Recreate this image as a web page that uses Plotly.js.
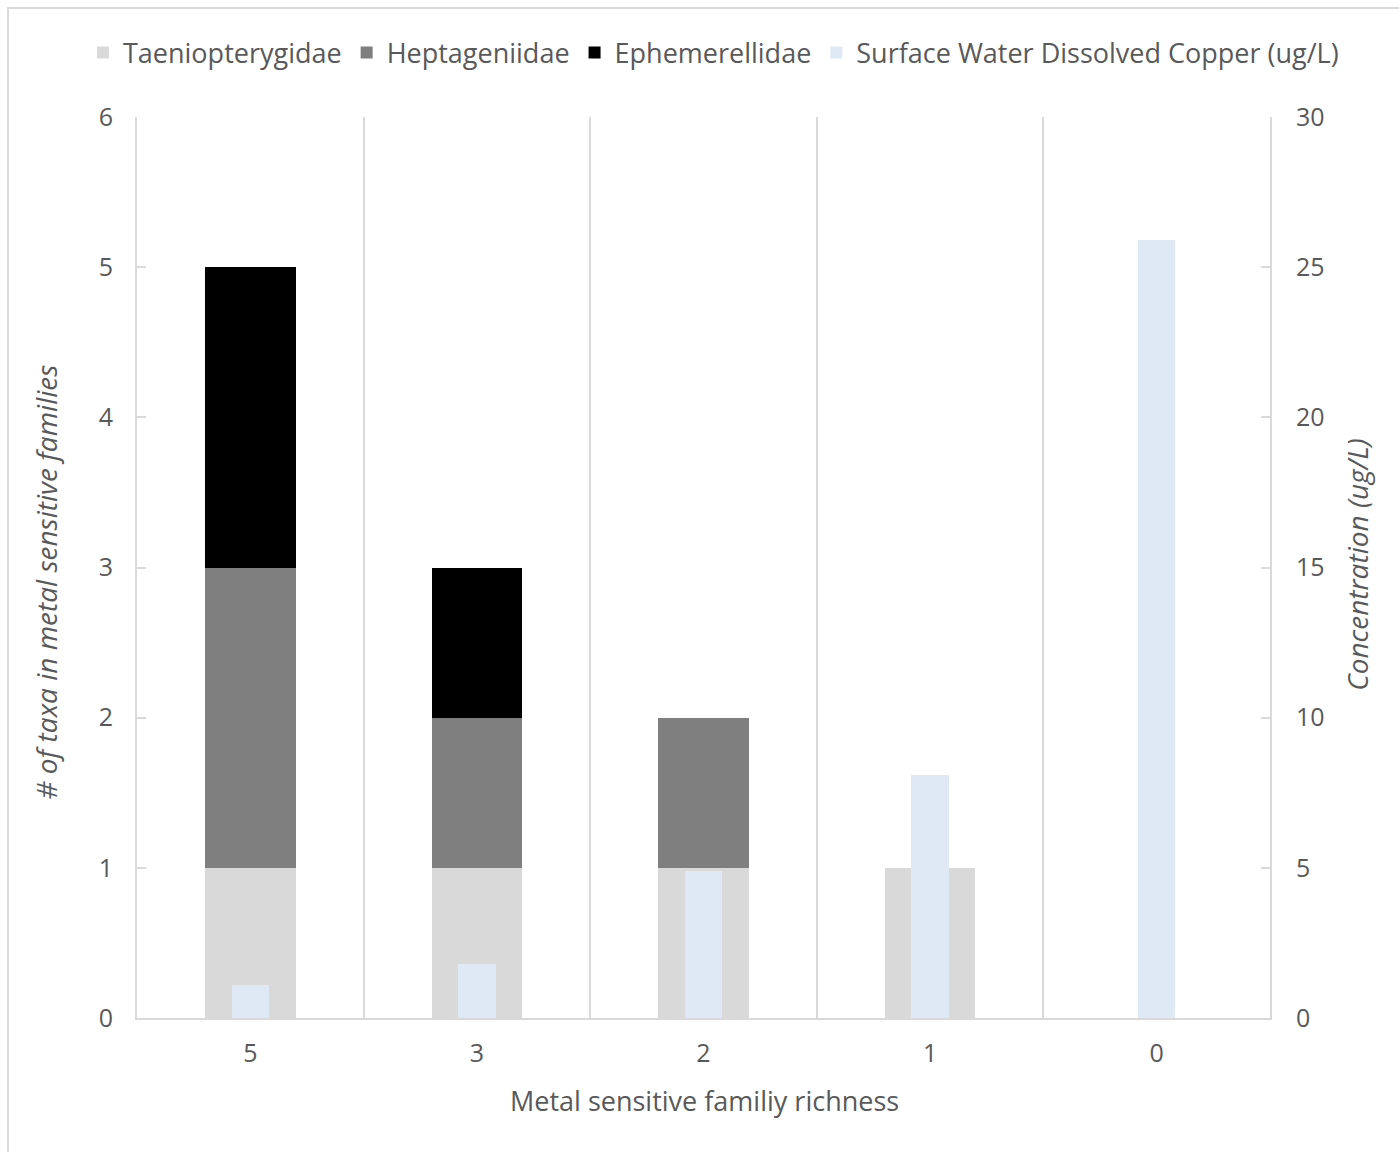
<!DOCTYPE html>
<html>
<head>
<meta charset="utf-8">
<script src="https://cdn.plot.ly/plotly-3.0.1.min.js"></script>
<style>
  html, body { margin: 0; padding: 0; background: #ffffff; }
  #frame {
    position: absolute; left: 7px; top: 7px;
    width: 1400px; height: 1150px;
    border: 2px solid #d9d9d9; box-sizing: border-box;
  }
  #chart { position: absolute; left: 0; top: 0; width: 1399px; height: 1152px; }
</style>
</head>
<body>
<div id="frame"></div>
<div id="chart"></div>
<script>
// Metal sensitive family richness (x categories)
const richness = ["5", "3", "2", "1", "0"];

// Number of taxa per metal sensitive family
const taeniopterygidae = [1, 1, 1, 1, 0];
const heptageniidae    = [2, 1, 1, 0, 0];
const ephemerellidae   = [2, 1, 0, 0, 0];

// Surface water dissolved copper (ug/L), right axis
const dissolvedCopper  = [1.1, 1.8, 4.9, 8.1, 25.9];

const seriesNames = ["Taeniopterygidae", "Heptageniidae", "Ephemerellidae",
                     "Surface Water Dissolved Copper (ug/L)"];

const textColor = "#595959";
const lineColor = "#d9d9d9";
const fontFamily = "'Open Sans', 'Noto Sans', sans-serif";

const familyWidth = 0.40;
const copperWidth = 0.165;

function familyTrace(name, values, color) {
  return {
    type: "bar", name: name, x: richness, y: values,
    xaxis: "x", yaxis: "y", width: familyWidth,
    marker: { color: color, line: { width: 0 } },
    hoverinfo: "x+y+name"
  };
}

const traces = [
  familyTrace(seriesNames[0], taeniopterygidae, "#d9d9d9"),
  familyTrace(seriesNames[1], heptageniidae, "#7f7f7f"),
  familyTrace(seriesNames[2], ephemerellidae, "#000000"),
  {
    type: "bar", name: seriesNames[3], x: richness, y: dissolvedCopper,
    xaxis: "x", yaxis: "y2", width: copperWidth,
    marker: { color: "#dee9f5", line: { width: 0 } },
    hoverinfo: "x+y+name"
  }
];

const tickFont = { family: fontFamily, size: 25, color: textColor };
const xTitleFont = { family: fontFamily, size: 27, color: textColor };
const yTitleFont = { family: fontFamily, size: 28, color: textColor };

const layout = {
  width: 1399, height: 1152,
  paper_bgcolor: "rgba(0,0,0,0)", plot_bgcolor: "rgba(0,0,0,0)",
  margin: { l: 137, r: 129, t: 117, b: 134 },
  barmode: "stack",
  bargap: 0,
  showlegend: true,
  legend: {
    orientation: "h", xref: "paper", x: -0.0477, xanchor: "left",
    yref: "paper", y: 1.071, yanchor: "middle",
    font: { family: fontFamily, size: 27, color: textColor },
    traceorder: "normal", bgcolor: "rgba(0,0,0,0)"
  },
  xaxis: {
    type: "category", categoryorder: "array", categoryarray: richness,
    range: [-0.5, 4.5], fixedrange: true,
    tickson: "boundaries", ticks: "",
    showgrid: true, gridcolor: lineColor, gridwidth: 2,
    showline: true, linecolor: lineColor, linewidth: 2,
    zeroline: false, tickfont: tickFont, ticklabelstandoff: 12
  },
  yaxis: {
    range: [0, 6], dtick: 1, tick0: 0, fixedrange: true,
    showgrid: false, zeroline: false,
    showline: true, linecolor: lineColor, linewidth: 2,
    ticks: "inside", ticklen: 9, tickcolor: lineColor, tickwidth: 2,
    tickfont: tickFont, ticklabelstandoff: 17
  },
  yaxis2: {
    overlaying: "y", side: "right",
    range: [0, 30], dtick: 5, tick0: 0, fixedrange: true,
    showgrid: false, zeroline: false,
    showline: true, linecolor: lineColor, linewidth: 2,
    ticks: "inside", ticklen: 9, tickcolor: lineColor, tickwidth: 2,
    tickfont: tickFont, ticklabelstandoff: 19
  },
  annotations: [
    {
      text: "<i># of taxa in metal sensitive families</i>",
      xref: "paper", yref: "paper", x: 0, y: 0.4834, xshift: -91,
      xanchor: "center", yanchor: "middle", textangle: -90,
      showarrow: false, font: yTitleFont
    },
    {
      text: "<i>Concentration (ug/L)</i>",
      xref: "paper", yref: "paper", x: 1, y: 0.503, xshift: 87,
      xanchor: "center", yanchor: "middle", textangle: -90,
      showarrow: false, font: yTitleFont
    },
    {
      text: "Metal sensitive familiy richness",
      xref: "paper", yref: "paper", x: 0.5009, y: 0, yshift: -82,
      xanchor: "center", yanchor: "middle",
      showarrow: false, font: xTitleFont
    }
  ]
};

Plotly.newPlot("chart", traces, layout, { displayModeBar: false });
</script>
</body>
</html>
